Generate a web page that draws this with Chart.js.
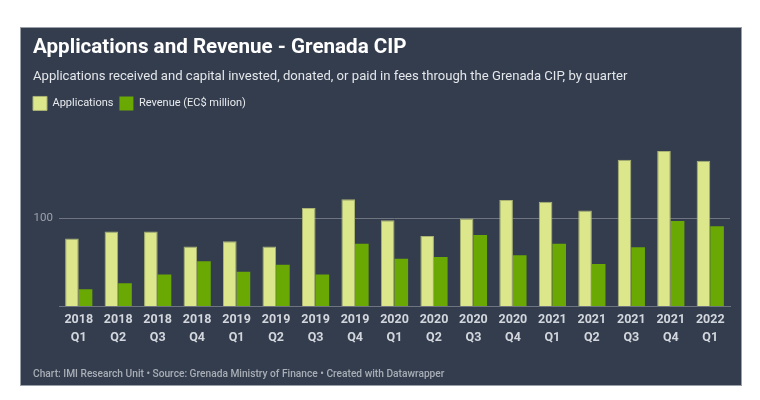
<!DOCTYPE html>
<html>
<head>
<meta charset="utf-8">
<script src="https://cdn.jsdelivr.net/npm/chart.js@4"></script>
<style>
  html, body { margin: 0; padding: 0; background: #ffffff; }
  #panel {
    position: absolute; left: 20px; top: 27px; width: 722px; height: 359px;
    background: #333d4e; border: 1px solid #9aa0a8; box-sizing: border-box;
  }
  #wrap { position: absolute; left: 0; top: 0; width: 720px; height: 357px; }
  #footer {
    position: absolute; left: 12px; top: 340px;
    font: 500 10.2px Roboto, sans-serif; color: #a9aeb6; white-space: nowrap;
  }
</style>
</head>
<body>
<div id="panel">
  <div id="wrap"><canvas id="cipChart"></canvas></div>
  <div id="footer">Chart: IMI Research Unit • Source: Grenada Ministry of Finance • Created with Datawrapper</div>
</div>
<script>
const quarters = [
  ["2018", "Q1"], ["2018", "Q2"], ["2018", "Q3"], ["2018", "Q4"],
  ["2019", "Q1"], ["2019", "Q2"], ["2019", "Q3"], ["2019", "Q4"],
  ["2020", "Q1"], ["2020", "Q2"], ["2020", "Q3"], ["2020", "Q4"],
  ["2021", "Q1"], ["2021", "Q2"], ["2021", "Q3"], ["2021", "Q4"],
  ["2022", "Q1"]
];
const applications = [77, 85, 85, 68, 74, 68, 112, 122, 98, 80, 100, 121, 119, 109, 167, 177, 166];
const revenue = [19, 26, 36, 51, 39, 47, 36, 71, 54, 56, 81, 58, 71, 48, 67, 97, 91];
const yTicks = [100];

// nudge legend so its first box lines up with the title text
const legendShift = {
  id: "legendShift",
  afterLayout(chart) {
    chart.legend.left -= 6;
    chart.legend.right -= 6;
  }
};

document.addEventListener("DOMContentLoaded", function () {
  const ctx = document.getElementById("cipChart").getContext("2d");
  new Chart(ctx, {
    type: "bar",
    data: {
      labels: quarters,
      datasets: [
        {
          label: "Applications",
          data: applications,
          backgroundColor: "#dce68b",
          borderColor: "#aab371",
          borderWidth: 1,
          barPercentage: 1,
          categoryPercentage: 0.69
        },
        {
          label: "Revenue (EC$ million)",
          data: revenue,
          backgroundColor: "#6aa804",
          borderWidth: 0,
          barPercentage: 1,
          categoryPercentage: 0.69
        }
      ]
    },
    options: {
      responsive: true,
      maintainAspectRatio: false,
      animation: false,
      layout: { padding: { left: 12, right: 11, top: 0, bottom: 0 } },
      plugins: {
        title: {
          display: true,
          text: "Applications and Revenue - Grenada CIP",
          align: "start",
          color: "#ffffff",
          font: { family: "Roboto", size: 20.6, weight: "bold", lineHeight: 1.2 },
          padding: { top: 7, bottom: 2 }
        },
        subtitle: {
          display: true,
          text: "Applications received and capital invested, donated, or paid in fees through the Grenada CIP, by quarter",
          align: "start",
          color: "#e4e7eb",
          font: { family: "Roboto", size: 13.1, lineHeight: 1.2 },
          padding: { top: 7, bottom: 6 }
        },
        legend: {
          position: "top",
          align: "start",
          labels: {
            color: "#e8eaed",
            font: { family: "Roboto", size: 11 },
            boxWidth: 14,
            boxHeight: 14,
            padding: 6,
            useBorderRadius: false
          }
        },
        tooltip: { enabled: false }
      },
      scales: {
        x: {
          grid: { display: false, drawTicks: false },
          border: { display: true, color: "#6f7580", width: 1 },
          ticks: {
            color: "#d3d7dd",
            font: { family: "Roboto", size: 12.5, weight: "bold", lineHeight: 1.45 },
            padding: 5,
            maxRotation: 0,
            autoSkip: false
          },
          afterFit(scale) { scale.height = 79; }
        },
        y: {
          min: 0,
          max: 212,
          afterBuildTicks(scale) { scale.ticks = yTicks.map(v => ({ value: v })); },
          border: { display: false },
          grid: { color: "#6f7580", lineWidth: 1, drawTicks: false },
          ticks: {
            color: "#9ea3ab",
            font: { family: "Roboto", size: 11.5 },
            padding: 6
          },
          afterFit(scale) { scale.width = 26; }
        }
      }
    },
    plugins: [legendShift]
  });
});
</script>
</body>
</html>
